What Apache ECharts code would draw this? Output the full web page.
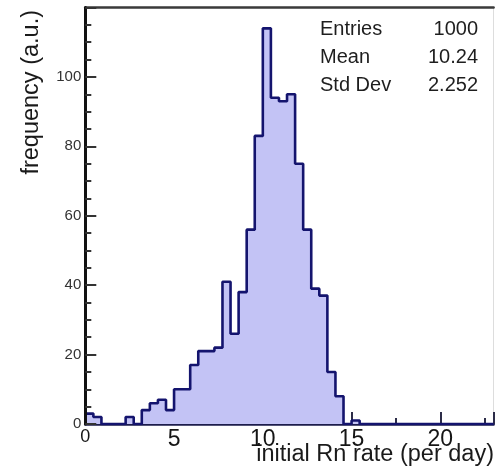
<!DOCTYPE html>
<html>
<head>
<meta charset="utf-8">
<script src="https://cdn.jsdelivr.net/npm/echarts@6/dist/echarts.min.js"></script>
<style>
  html, body { margin: 0; padding: 0; background: #ffffff; }
  #chart { width: 495px; height: 476px; }
</style>
</head>
<body>
<div id="chart"></div>
<script>
// Histogram of the initial Rn rate: 1000 entries, bins of width 5/11 starting at 0
const binWidth = 5 / 11;
const binCounts = [3, 2, 0, 0, 0, 2, 0, 4, 6, 7, 4, 10, 10, 17, 21, 21, 22, 41, 26, 38,
                   56, 83, 114, 94, 93, 95, 75, 56, 39, 37, 15, 8, 0, 1];
const xRange = [0, 23];
const yRange = [0, 120];
const xTickStep = 5;
const yTickStep = 20;

// Statistics box
const statNames = ['Entries', 'Mean', 'Std Dev'];
const statValues = ['1000', '10.24', '2.252'];

const xTitle = 'initial Rn rate (per day)';
const yTitle = 'frequency (a.u.)';

// Step outline: each point is a bin's left edge with its count
const stepPoints = binCounts.map((c, k) => [k * binWidth, c]);
stepPoints.push([binCounts.length * binWidth, 0]);
stepPoints.push([xRange[1], 0]);

const FONT = 'Liberation Sans, Arial, Helvetica, sans-serif';
const LINE = '#14146e';
const FILL = '#c3c3f5';

const chart = echarts.init(document.getElementById('chart'), null, { renderer: 'canvas' });

const statGraphics = [];
statNames.forEach((name, i) => {
  const y = 29 + i * 28;
  statGraphics.push({
    type: 'text', x: 320, y: y, z: 10,
    style: { text: name, fill: '#1e1e1e', font: '20px ' + FONT, textAlign: 'left', textVerticalAlign: 'middle' }
  });
  statGraphics.push({
    type: 'text', x: 478, y: y, z: 10,
    style: { text: statValues[i], fill: '#1e1e1e', font: '20px ' + FONT, textAlign: 'right', textVerticalAlign: 'middle' }
  });
});

const option = {
  backgroundColor: '#ffffff',
  animation: false,
  grid: { left: 85.3, top: 7.5, right: 1.4, bottom: 52, containLabel: false },
  xAxis: [
    {
      type: 'value', min: xRange[0], max: xRange[1], interval: xTickStep,
      position: 'bottom',
      axisLine: { show: true, onZero: false, lineStyle: { color: '#1c1c4c', width: 2.5 } },
      axisTick: { show: true, inside: true, length: 12, lineStyle: { color: '#2c2c48', width: 2 } },
      minorTick: { show: true, splitNumber: 2, length: 6, lineStyle: { color: '#2c2c48', width: 2 } },
      splitLine: { show: false },
      axisLabel: {
        margin: 4, color: '#151515', fontFamily: FONT, fontSize: 23,
        showMaxLabel: false,
        formatter: v => (v === 0 ? '{z|0}' : (v >= xRange[1] ? '' : String(v))),
        rich: { z: { fontSize: 18, fontFamily: FONT, color: '#151515' } }
      }
    },
    {
      type: 'value', min: xRange[0], max: xRange[1], position: 'top',
      axisLine: { show: true, onZero: false, lineStyle: { color: '#3a3a3a', width: 2.5 } },
      axisTick: { show: false }, axisLabel: { show: false }, splitLine: { show: false }
    }
  ],
  yAxis: [
    {
      type: 'value', min: yRange[0], max: yRange[1], interval: yTickStep,
      position: 'left', z: 5,
      axisLine: { show: true, onZero: false, lineStyle: { color: '#111111', width: 3 } },
      axisTick: { show: true, inside: true, length: 11, lineStyle: { color: '#333333', width: 2 } },
      minorTick: { show: true, splitNumber: 4, length: 6, lineStyle: { color: '#333333', width: 2 } },
      splitLine: { show: false },
      axisLabel: {
        margin: 4, color: '#333333', fontFamily: FONT, fontSize: 15,
        formatter: v => (v >= yRange[1] ? '' : String(v))
      }
    },
    {
      type: 'value', min: yRange[0], max: yRange[1], position: 'right',
      axisLine: { show: true, onZero: false, lineStyle: { color: '#dddddd', width: 1 } },
      axisTick: { show: false }, axisLabel: { show: false }, splitLine: { show: false }
    }
  ],
  series: [
    {
      type: 'line',
      xAxisIndex: 0, yAxisIndex: 0,
      step: 'end',
      data: stepPoints,
      symbol: 'none',
      lineStyle: { color: LINE, width: 2.6 },
      areaStyle: { color: FILL, opacity: 1 },
      z: 2
    }
  ],
  graphic: [
    {
      type: 'text', x: 32, y: 10, rotation: Math.PI / 2, z: 10,
      style: { text: yTitle, fill: '#1a1a1a', font: '23.5px ' + FONT, textAlign: 'right', textVerticalAlign: 'middle' }
    },
    {
      type: 'text', x: 494, y: 455, z: 10,
      style: { text: xTitle, fill: '#1a1a1a', font: '23.5px ' + FONT, textAlign: 'right', textVerticalAlign: 'middle' }
    }
  ].concat(statGraphics)
};

chart.setOption(option);
</script>
</body>
</html>
